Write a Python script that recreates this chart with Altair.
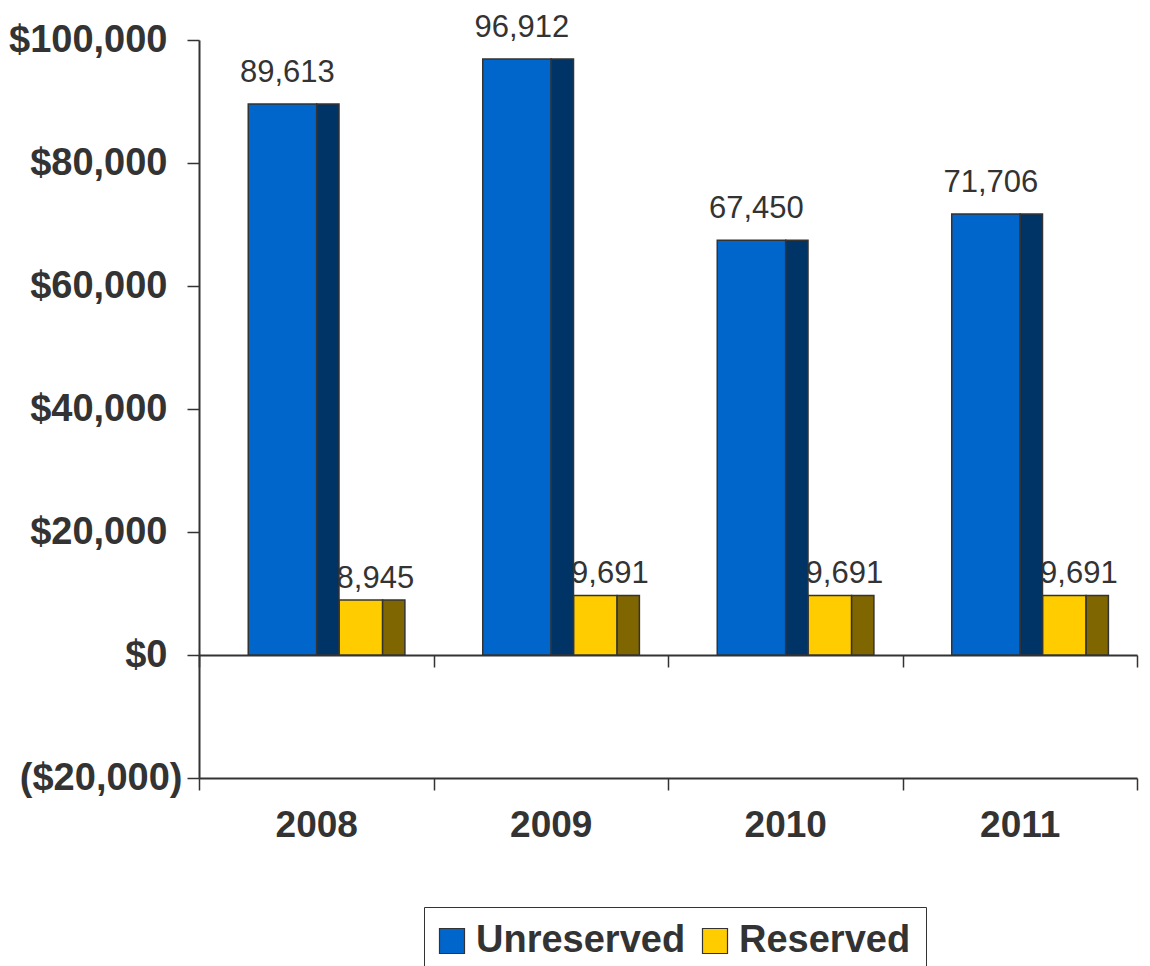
import altair as alt
import pandas as pd

# ---- data ----
years = ["2008", "2009", "2010", "2011"]
series = ["Unreserved", "Reserved"]
unreserved = [89613, 96912, 67450, 71706]
reserved = [8945, 9691, 9691, 9691]

# ---- style constants ----
FRONT = {"Unreserved": "#0066CC", "Reserved": "#FFCC00"}
SIDE = {"Unreserved": "#003366", "Reserved": "#806600"}
# fractional positions inside each year band: (front start, side start, side end)
OFFS = {"Unreserved": (0.210, 0.502, 0.597), "Reserved": (0.597, 0.783, 0.878)}
LABEL_POS = {"Unreserved": 0.377, "Reserved": 0.752}
LABEL_DY = {"Unreserved": -22, "Reserved": -12}
FONT = "Liberation Sans"
TXT = "#333333"
W, H = 938, 738

rows = []
for i, y in enumerate(years):
    for s, vals in (("Unreserved", unreserved), ("Reserved", reserved)):
        a, b, c = OFFS[s]
        rows.append(dict(year=y, series=s, value=vals[i],
                         fx=i + a, fx2=i + b, sx=i + b, sx2=i + c,
                         lx=i + LABEL_POS[s], sidecol=SIDE[s]))
df = pd.DataFrame(rows)

xq = alt.Scale(domain=[0, 4], nice=False, zero=False, padding=0)
yscale = alt.Scale(domain=[-20000, 100000], nice=False, zero=False)

y_label_expr = ("datum.value < 0 ? '($' + format(-datum.value, ',') + ')' : "
                "'$' + format(datum.value, ',')")

x_zero_axis = alt.Axis(orient="bottom", offset=-123, values=[0, 1, 2, 3, 4],
                       labels=False, ticks=True, tickSize=12, tickWidth=1.5,
                       tickColor="#333333", domainColor="#333333",
                       domainWidth=2, grid=False, title=None)
y_axis = alt.Axis(values=[-20000, 0, 20000, 40000, 60000, 80000, 100000],
                  labelExpr=y_label_expr, labelFont=FONT, labelFontSize=38,
                  labelFontWeight="bold", labelColor=TXT,
                  labelPadding={"condition": {"test": "datum.value < 0", "value": 5},
                                "value": 20},
                  tickSize=12, tickWidth=1.5, tickColor="#333333",
                  domainColor="#333333", domainWidth=2, grid=False,
                  title=None)

base = alt.Chart(df)

front = base.mark_bar(stroke="#333333", strokeWidth=1.5).encode(
    x=alt.X("fx:Q", scale=xq, axis=x_zero_axis),
    x2="fx2:Q",
    y=alt.Y("value:Q", scale=yscale, axis=y_axis),
    y2=alt.datum(0),
    color=alt.Color("series:N",
                    scale=alt.Scale(domain=series,
                                    range=[FRONT[s] for s in series]),
                    sort=series,
                    legend=alt.Legend(orient="none", legendX=225, legendY=867,
                                      direction="horizontal", title=None,
                                      symbolType="square", symbolSize=625,
                                      symbolStrokeColor="#333333",
                                      symbolStrokeWidth=1.2,
                                      symbolOffset=-6,
                                      labelFont=FONT, labelFontSize=38,
                                      labelFontWeight="bold", labelColor=TXT,
                                      labelOffset=5, columnPadding=14,
                                      strokeColor="#333333", padding=15,
                                      fillColor="white", labelLimit=400)),
)

side = base.mark_bar(stroke="#333333", strokeWidth=1.5).encode(
    x=alt.X("sx:Q", scale=xq, axis=x_zero_axis),
    x2="sx2:Q",
    y=alt.Y("value:Q", scale=yscale, axis=y_axis),
    y2=alt.datum(0),
    fill=alt.Fill("sidecol:N", scale=None, legend=None),
)


def label_layer(s):
    return base.transform_filter(alt.datum.series == s).mark_text(
        font=FONT, fontSize=31, color=TXT, baseline="alphabetic",
        dy=LABEL_DY[s]).encode(
        x=alt.X("lx:Q", scale=xq, axis=x_zero_axis),
        y=alt.Y("value:Q", scale=yscale, axis=y_axis),
        text=alt.Text("value:Q", format=","),
    )


bars = alt.layer(front, side, label_layer("Unreserved"), label_layer("Reserved"))

year_df = pd.DataFrame({"year": years})
year_axis = alt.Chart(year_df).mark_point(opacity=0).encode(
    x=alt.X("year:N", sort=years,
            scale=alt.Scale(paddingInner=0, paddingOuter=0),
            axis=alt.Axis(orient="bottom", tickBand="extent", tickSize=12,
                          tickWidth=1.5, tickColor="#333333",
                          domainColor="#333333", domainWidth=2,
                          labelFont=FONT, labelFontSize=37,
                          labelFontWeight="bold", labelColor=TXT,
                          labelPadding=17, labelAngle=0, grid=False,
                          title=None)),
    y=alt.Y("v:Q", scale=yscale, axis=y_axis),
).transform_calculate(v="0")

chart = alt.layer(bars, year_axis).resolve_scale(x="independent").properties(
    width=W, height=H,
    autosize=alt.AutoSizeParams(type="none"),
    padding={"left": 191, "top": 32, "right": 5, "bottom": 210},
).configure_view(stroke=None)

chart.save("out.html", embed_options={"renderer": "svg", "actions": False})
